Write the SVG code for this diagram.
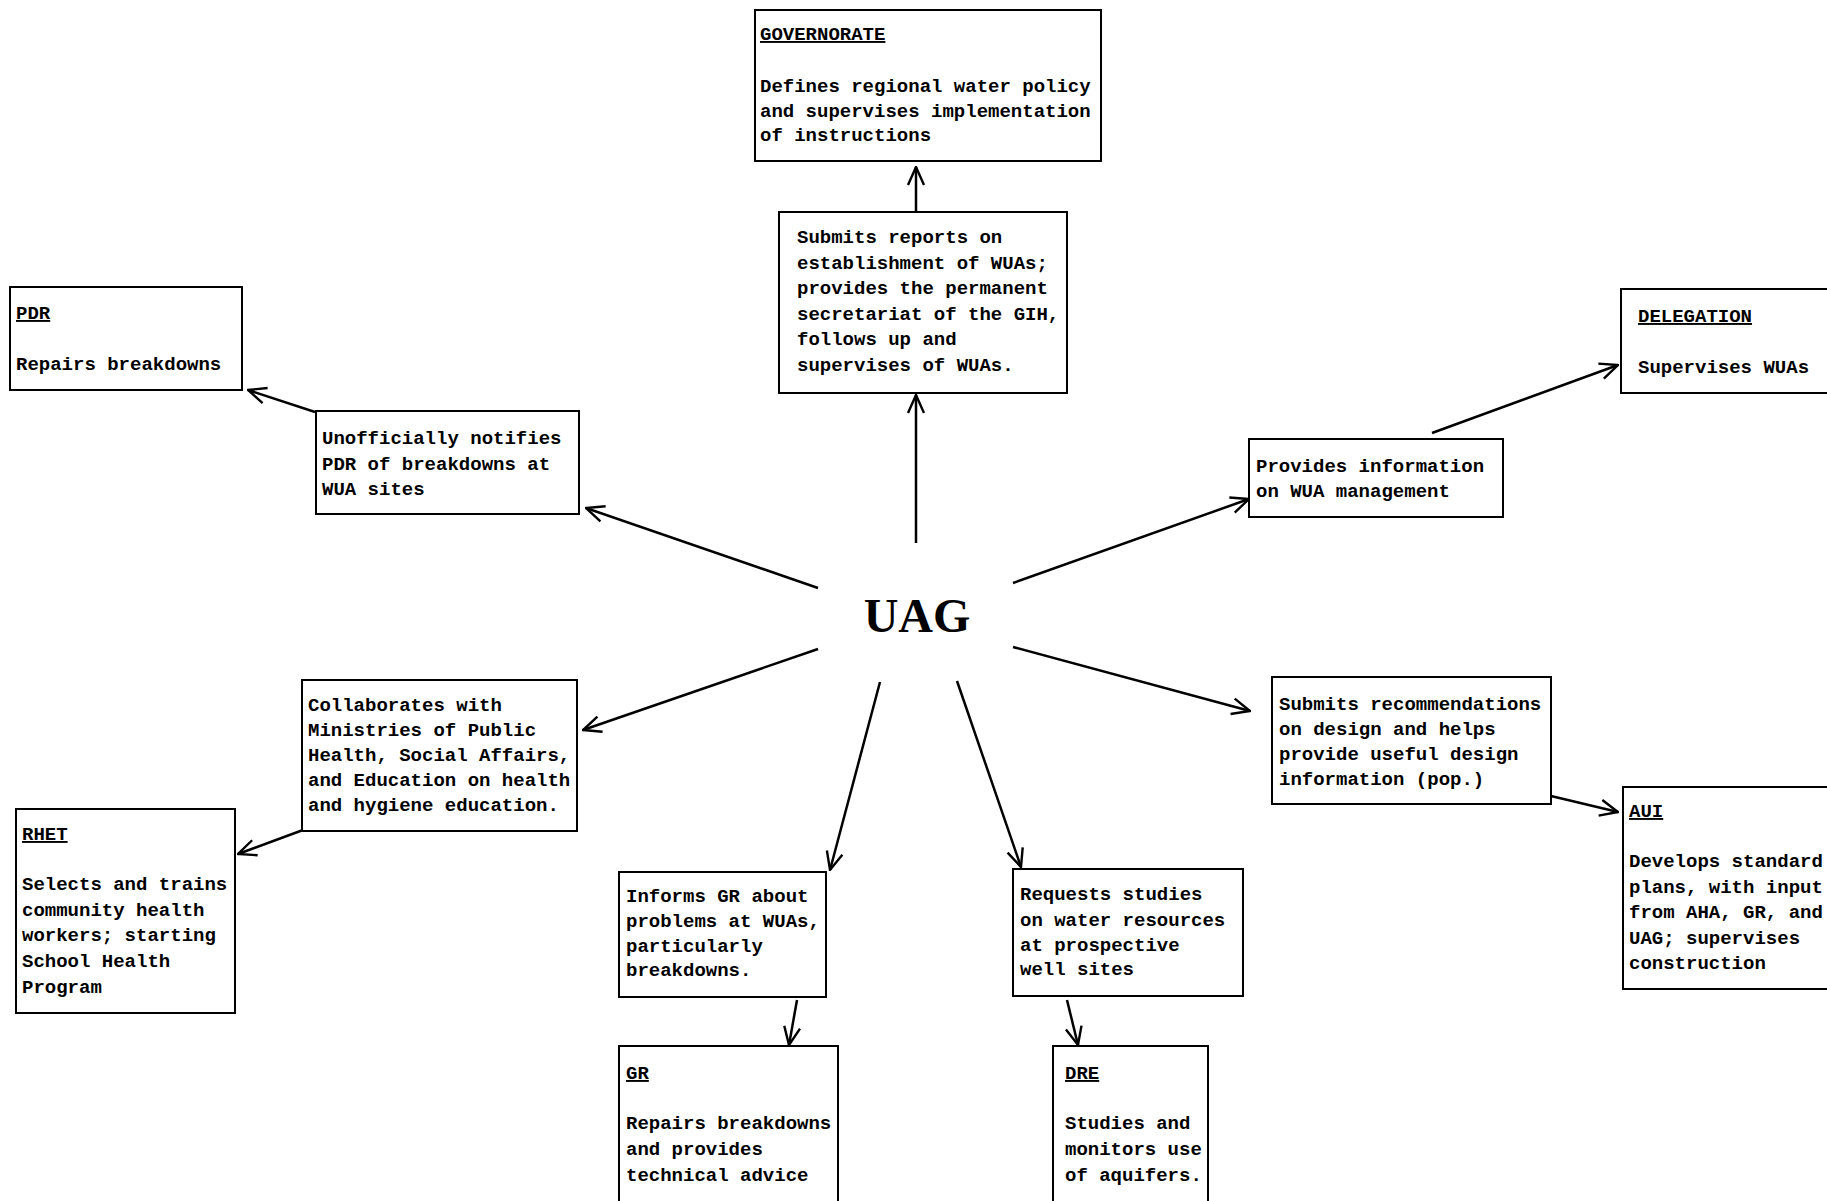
<svg xmlns="http://www.w3.org/2000/svg" width="1827" height="1201" viewBox="0 0 1827 1201">
<style>
rect.box{fill:#fff;stroke:#000;stroke-width:2}
text.t{font-family:"Liberation Mono",monospace;font-weight:bold;font-size:19px;fill:#000}
text.h{text-decoration:underline}
.c line{stroke:#000;stroke-width:2.5;fill:none;marker-end:url(#ah)}
text.uag{font-family:"Liberation Serif",serif;font-weight:bold;font-size:48px;fill:#000}
</style>
<defs>
<marker id="ah" viewBox="0 0 20 20" refX="19" refY="10" markerWidth="20" markerHeight="20" markerUnits="userSpaceOnUse" orient="auto">
<path d="M1,2 L19,10 L1,18" fill="none" stroke="#000" stroke-width="2.4"/>
</marker>
</defs>
<rect width="1827" height="1201" fill="#fff"/>

<g id="uag"><text class="uag" x="917" y="632" text-anchor="middle">UAG</text></g>

<g id="governorate">
<rect class="box" x="755" y="10" width="346" height="151"/>
<text class="t h" x="760" y="40">GOVERNORATE</text>
<text class="t" x="760" y="92">Defines regional water policy</text>
<text class="t" x="760" y="117">and supervises implementation</text>
<text class="t" x="760" y="141">of instructions</text>
</g>

<g id="submits-reports">
<rect class="box" x="779" y="212" width="288" height="181"/>
<text class="t" x="797" y="243">Submits reports on</text>
<text class="t" x="797" y="269">establishment of WUAs;</text>
<text class="t" x="797" y="294">provides the permanent</text>
<text class="t" x="797" y="320">secretariat of the GIH,</text>
<text class="t" x="797" y="345">follows up and</text>
<text class="t" x="797" y="371">supervises of WUAs.</text>
</g>

<g id="pdr">
<rect class="box" x="10" y="287" width="232" height="103"/>
<text class="t h" x="16" y="319">PDR</text>
<text class="t" x="16" y="370">Repairs breakdowns</text>
</g>

<g id="unofficially">
<rect class="box" x="316" y="411" width="263" height="103"/>
<text class="t" x="322" y="444">Unofficially notifies</text>
<text class="t" x="322" y="470">PDR of breakdowns at</text>
<text class="t" x="322" y="495">WUA sites</text>
</g>

<g id="delegation">
<rect class="box" x="1621" y="289" width="210" height="104"/>
<text class="t h" x="1638" y="322">DELEGATION</text>
<text class="t" x="1638" y="373">Supervises WUAs</text>
</g>

<g id="provides-info">
<rect class="box" x="1249" y="439" width="254" height="78"/>
<text class="t" x="1256" y="472">Provides information</text>
<text class="t" x="1256" y="497">on WUA management</text>
</g>

<g id="collaborates">
<rect class="box" x="302" y="680" width="275" height="151"/>
<text class="t" x="308" y="711">Collaborates with</text>
<text class="t" x="308" y="736">Ministries of Public</text>
<text class="t" x="308" y="761">Health, Social Affairs,</text>
<text class="t" x="308" y="786">and Education on health</text>
<text class="t" x="308" y="811">and hygiene education.</text>
</g>

<g id="rhet">
<rect class="box" x="16" y="809" width="219" height="204"/>
<text class="t h" x="22" y="840">RHET</text>
<text class="t" x="22" y="890">Selects and trains</text>
<text class="t" x="22" y="916">community health</text>
<text class="t" x="22" y="941">workers; starting</text>
<text class="t" x="22" y="967">School Health</text>
<text class="t" x="22" y="993">Program</text>
</g>

<g id="informs-gr">
<rect class="box" x="619" y="872" width="207" height="125"/>
<text class="t" x="626" y="902">Informs GR about</text>
<text class="t" x="626" y="927">problems at WUAs,</text>
<text class="t" x="626" y="952">particularly</text>
<text class="t" x="626" y="976">breakdowns.</text>
</g>

<g id="gr">
<rect class="box" x="619" y="1046" width="219" height="160"/>
<text class="t h" x="626" y="1079">GR</text>
<text class="t" x="626" y="1129">Repairs breakdowns</text>
<text class="t" x="626" y="1155">and provides</text>
<text class="t" x="626" y="1181">technical advice</text>
</g>

<g id="requests-studies">
<rect class="box" x="1013" y="869" width="230" height="127"/>
<text class="t" x="1020" y="900">Requests studies</text>
<text class="t" x="1020" y="926">on water resources</text>
<text class="t" x="1020" y="951">at prospective</text>
<text class="t" x="1020" y="975">well sites</text>
</g>

<g id="dre">
<rect class="box" x="1053" y="1046" width="155" height="160"/>
<text class="t h" x="1065" y="1079">DRE</text>
<text class="t" x="1065" y="1129">Studies and</text>
<text class="t" x="1065" y="1155">monitors use</text>
<text class="t" x="1065" y="1181">of aquifers.</text>
</g>

<g id="submits-recommendations">
<rect class="box" x="1272" y="677" width="279" height="127"/>
<text class="t" x="1279" y="710">Submits recommendations</text>
<text class="t" x="1279" y="735">on design and helps</text>
<text class="t" x="1279" y="760">provide useful design</text>
<text class="t" x="1279" y="785">information (pop.)</text>
</g>

<g id="aui">
<rect class="box" x="1623" y="787" width="210" height="202"/>
<text class="t h" x="1629" y="817">AUI</text>
<text class="t" x="1629" y="867">Develops standard</text>
<text class="t" x="1629" y="893">plans, with input</text>
<text class="t" x="1629" y="918">from AHA, GR, and</text>
<text class="t" x="1629" y="944">UAG; supervises</text>
<text class="t" x="1629" y="969">construction</text>
</g>

<g id="connectors" class="c">
<line x1="916" y1="212" x2="916" y2="167"/>
<line x1="916" y1="543" x2="916" y2="395"/>
<line x1="818" y1="588" x2="586" y2="508"/>
<line x1="315" y1="412" x2="248" y2="390"/>
<line x1="1013" y1="583" x2="1249" y2="499"/>
<line x1="1432" y1="433" x2="1618" y2="365"/>
<line x1="818" y1="649" x2="583" y2="730"/>
<line x1="303" y1="830" x2="238" y2="854"/>
<line x1="1013" y1="647" x2="1250" y2="711"/>
<line x1="1551" y1="796" x2="1618" y2="812"/>
<line x1="880" y1="682" x2="830" y2="870"/>
<line x1="957" y1="681" x2="1021" y2="867"/>
<line x1="797" y1="1000" x2="789" y2="1045"/>
<line x1="1067" y1="1000" x2="1078" y2="1045"/>
</g>
</svg>
